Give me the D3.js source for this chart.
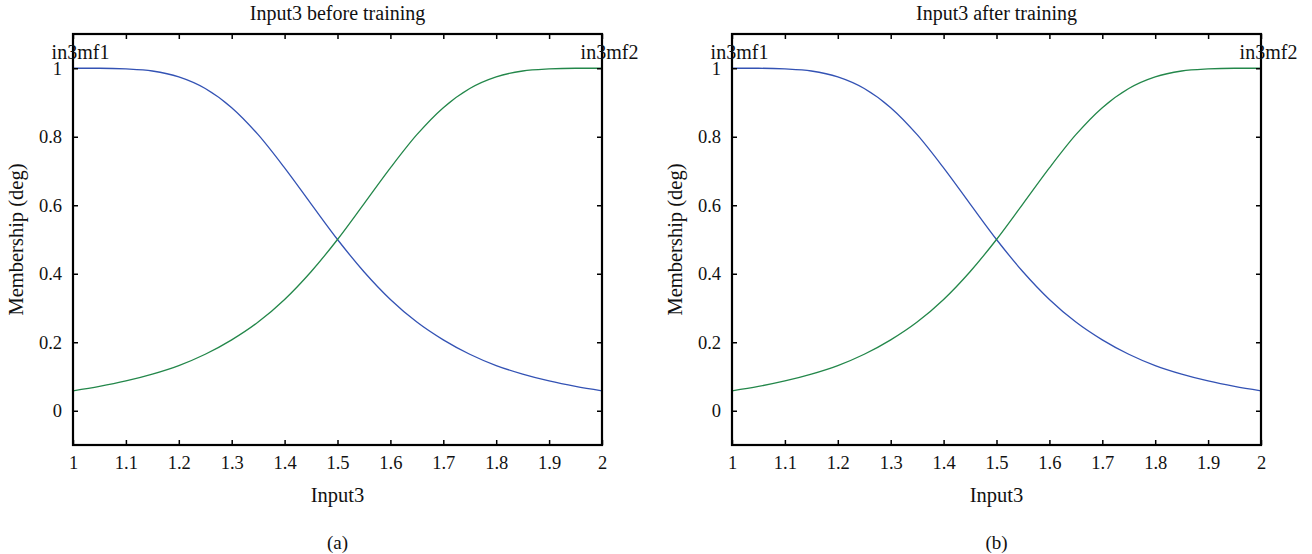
<!DOCTYPE html>
<html>
<head>
<meta charset="utf-8">
<script src="https://cdn.jsdelivr.net/npm/d3@7"></script>
<style>
  body { margin: 0; background: #fff; }
  svg { display: block; }
  text { font-family: "Liberation Serif", "Times New Roman", serif; fill: #111; }
</style>
</head>
<body>
<svg id="chart" width="1312" height="554"></svg>
<script>
// ─── Data ────────────────────────────────────────────────────────────────────
const xValues = [1.00, 1.05, 1.10, 1.15, 1.20, 1.25, 1.30, 1.35, 1.40, 1.45, 1.50,
                 1.55, 1.60, 1.65, 1.70, 1.75, 1.80, 1.85, 1.90, 1.95, 2.00];

const mf1Before = [1.000, 1.000, 0.998, 0.992, 0.975, 0.941, 0.885, 0.806, 0.709, 0.604, 0.500,
                   0.406, 0.325, 0.259, 0.207, 0.165, 0.132, 0.107, 0.087, 0.071, 0.058];
const mf2Before = [0.058, 0.071, 0.087, 0.107, 0.132, 0.165, 0.207, 0.259, 0.325, 0.406, 0.500,
                   0.604, 0.709, 0.806, 0.885, 0.941, 0.975, 0.992, 0.998, 1.000, 1.000];

const mf1After = [1.000, 1.000, 0.998, 0.992, 0.975, 0.941, 0.885, 0.806, 0.709, 0.604, 0.500,
                  0.406, 0.325, 0.259, 0.207, 0.165, 0.132, 0.107, 0.087, 0.071, 0.058];
const mf2After = [0.058, 0.071, 0.087, 0.107, 0.132, 0.165, 0.207, 0.259, 0.325, 0.406, 0.500,
                  0.604, 0.709, 0.806, 0.885, 0.941, 0.975, 0.992, 0.998, 1.000, 1.000];

const xTicks = [1, 1.1, 1.2, 1.3, 1.4, 1.5, 1.6, 1.7, 1.8, 1.9, 2];
const yTicks = [0, 0.2, 0.4, 0.6, 0.8, 1];
const mfNames = ["in3mf1", "in3mf2"];
const mfPeaks = [1, 2];

const panels = [
    { title: "Input3 before training", tag: "(a)", left: 73, right: 602, series: [mf1Before, mf2Before] },
    { title: "Input3 after training",  tag: "(b)", left: 732, right: 1261, series: [mf1After, mf2After] },
];

const colors = ["#3352b4", "#23874a"];
const plotTop = 34, plotBottom = 445;

const svg = d3.select("#chart");

panels.forEach(p => {
    const x = d3.scaleLinear().domain([1, 2]).range([p.left, p.right]);
    const y = d3.scaleLinear().domain([-0.1, 1.1]).range([plotBottom, plotTop]);
    const g = svg.append("g");
    const fmt = d => String(d);

    // curves
    const line = d3.line()
        .x((d, i) => x(xValues[i]))
        .y(d => y(d))
        .curve(d3.curveMonotoneX);

    p.series.forEach((s, k) => {
        g.append("path")
            .datum(s)
            .attr("d", line)
            .attr("fill", "none")
            .attr("stroke", colors[k])
            .attr("stroke-width", 1.3);
    });

    // axes with inward ticks on all sides
    g.append("g").attr("transform", `translate(0,${plotBottom})`)
        .call(d3.axisBottom(x).tickValues(xTicks).tickSizeInner(-5).tickSizeOuter(0).tickPadding(11).tickFormat(fmt));
    g.append("g").attr("transform", `translate(0,${plotTop})`)
        .call(d3.axisTop(x).tickValues(xTicks).tickSizeInner(-5).tickSizeOuter(0).tickFormat(""));
    g.append("g").attr("transform", `translate(${p.left},0)`)
        .call(d3.axisLeft(y).tickValues(yTicks).tickSizeInner(-5).tickSizeOuter(0).tickPadding(11).tickFormat(fmt));
    g.append("g").attr("transform", `translate(${p.right},0)`)
        .call(d3.axisRight(y).tickValues(yTicks).tickSizeInner(-5).tickSizeOuter(0).tickFormat(""));

    g.selectAll(".domain").remove();
    g.selectAll(".tick line").attr("stroke", "#000").attr("stroke-width", 1.5);
    g.selectAll(".tick text").style("font-size", "18.5px")
        .style("font-family", "'Liberation Serif', serif").attr("fill", "#111");

    // frame
    g.append("rect")
        .attr("x", p.left).attr("y", plotTop)
        .attr("width", p.right - p.left).attr("height", plotBottom - plotTop)
        .attr("fill", "none").attr("stroke", "#000").attr("stroke-width", 2.2);

    // mf labels
    mfNames.forEach((name, k) => {
        g.append("text")
            .attr("x", x(mfPeaks[k]) + 7.5)
            .attr("y", y(1) - 9)
            .attr("text-anchor", "middle")
            .style("font-size", "20px")
            .text(name);
    });

    const cx = (p.left + p.right) / 2;
    g.append("text").attr("x", cx).attr("y", 20).attr("text-anchor", "middle")
        .style("font-size", "20px").text(p.title);
    g.append("text").attr("x", cx).attr("y", 502).attr("text-anchor", "middle")
        .style("font-size", "20.5px").text("Input3");
    g.append("text").attr("x", cx).attr("y", 549).attr("text-anchor", "middle")
        .style("font-size", "19px").text(p.tag);
    g.append("text")
        .attr("transform", `translate(${p.left - 50.5},${(plotTop + plotBottom) / 2}) rotate(-90)`)
        .attr("text-anchor", "middle")
        .style("font-size", "20.5px").text("Membership (deg)");
});
</script>
</body>
</html>
